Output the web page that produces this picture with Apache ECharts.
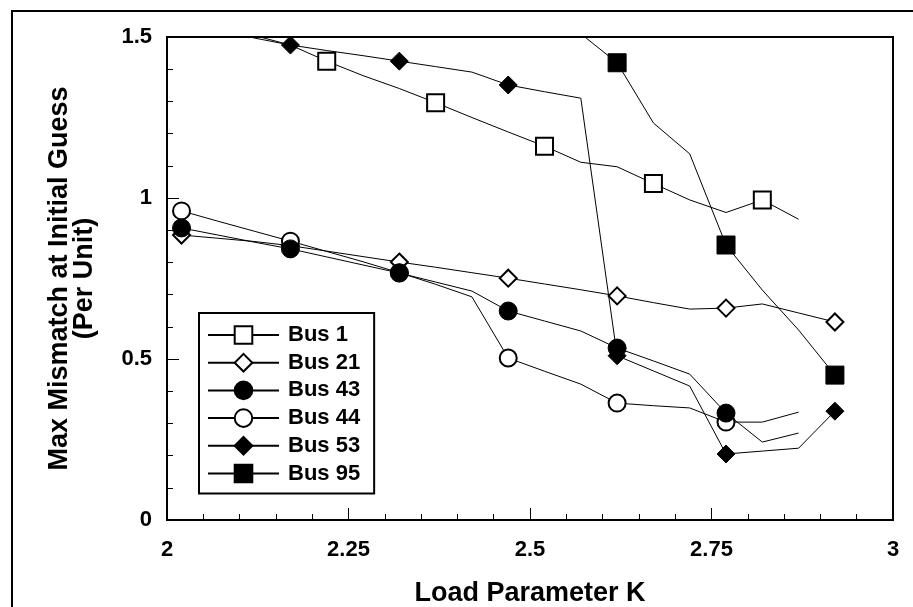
<!DOCTYPE html>
<html>
<head>
<meta charset="utf-8">
<script src="https://cdn.jsdelivr.net/npm/echarts@6/dist/echarts.min.js"></script>
<style>
html,body{margin:0;padding:0;background:#fff;}
#chart{width:913px;height:607px;}
</style>
</head>
<body>
<div id="chart"></div>
<script>
// Load parameter K at which each curve has a vertex
const kValues = [2.02, 2.07, 2.12, 2.17, 2.22, 2.27, 2.32, 2.37, 2.42, 2.47, 2.52, 2.57, 2.62, 2.67, 2.72, 2.77, 2.82, 2.87, 2.92];

const seriesNames = ['Bus 1', 'Bus 21', 'Bus 43', 'Bus 44', 'Bus 53', 'Bus 95'];

const bus1  = [null, 1.56, 1.505, 1.475, 1.425, 1.38, 1.34, 1.296, 1.25, 1.205, 1.161, 1.111, 1.097, 1.045, 0.994, 0.955, 0.994, 0.934, null];
const bus21 = [0.885, 0.875, 0.865, 0.852, 0.835, 0.818, 0.801, 0.785, 0.768, 0.751, 0.733, 0.715, 0.696, 0.675, 0.655, 0.658, 0.671, 0.643, 0.615];
const bus43 = [0.907, 0.885, 0.863, 0.842, 0.817, 0.792, 0.767, 0.739, 0.711, 0.649, 0.618, 0.587, 0.534, 0.494, 0.453, 0.332, 0.242, 0.27, null];
const bus44 = [0.96, 0.928, 0.897, 0.866, 0.834, 0.802, 0.768, 0.732, 0.693, 0.503, 0.462, 0.422, 0.363, 0.355, 0.348, 0.304, 0.304, 0.335, null];
const bus53 = [null, 1.53, 1.497, 1.475, 1.458, 1.442, 1.425, 1.408, 1.391, 1.351, 1.33, 1.31, 0.51, 0.463, 0.416, 0.205, 0.214, 0.223, 0.338];
const bus95 = [null, null, null, null, null, null, null, null, null, null, null, 1.51, 1.42, 1.233, 1.137, 0.854, 0.714, 0.59, 0.45];

const xTickLabels = ['2', '2.25', '2.5', '2.75', '3'];
const yTickLabels = ['0', '0.5', '1', '1.5'];

const seriesValues = [bus1, bus21, bus43, bus44, bus53, bus95];
// which vertex index (mod 3) carries a marker
const markerPhase = [1, 0, 0, 0, 0, 0];
const symbols = ['emptyRect', 'emptyDiamond', 'circle', 'emptyCircle', 'diamond', 'rect'];
const symbolSizes = [17, 17, 18, 17, 18, 18];
const zOrder = [2, 2, 4, 3, 2, 2];

const FONT = '"Liberation Sans", Arial, sans-serif';

const chart = echarts.init(document.getElementById('chart'), null, {renderer: 'canvas'});

const series = seriesNames.map((name, i) => ({
  name: name,
  type: 'line',
  data: kValues.map((k, j) => [k, seriesValues[i][j]]),
  symbol: symbols[i],
  symbolSize: (val, params) => (params.dataIndex % 3 === markerPhase[i] ? symbolSizes[i] : 0),
  showAllSymbol: true,
  connectNulls: false,
  clip: true,
  z: zOrder[i],
  lineStyle: {color: '#000', width: 1},
  itemStyle: {color: '#000', borderColor: '#000', borderWidth: 1},
  emphasis: {disabled: true},
  animation: false
}));

const option = {
  animation: false,
  backgroundColor: '#fff',
  grid: {
    left: 167, top: 37, right: 20, bottom: 87,
    outerBoundsMode: 'none',
    containLabel: false,
    show: true, borderColor: '#000', borderWidth: 2, backgroundColor: 'transparent'
  },
  graphic: [{
    type: 'polyline',
    shape: {points: [[12, 607], [12, 11], [913, 11]]},
    style: {stroke: '#000', lineWidth: 2, fill: null},
    silent: true
  }],
  legend: {
    show: true,
    orient: 'vertical',
    left: 199,
    top: 313,
    padding: [11, 14, 9, 8],
    itemWidth: 71,
    itemHeight: 22,
    itemGap: 5.7,
    backgroundColor: '#fff',
    borderColor: '#000',
    borderWidth: 2,
    borderRadius: 0,
    data: seriesNames,
    textStyle: {fontFamily: FONT, fontWeight: 'bold', fontSize: 22, color: '#000', padding: [0, 0, 0, 4]}
  },
  xAxis: {
    type: 'value',
    min: 2, max: 3, interval: 0.25,
    name: 'Load Parameter K',
    nameLocation: 'middle',
    nameGap: 60,
    nameTextStyle: {fontFamily: FONT, fontWeight: 'bold', fontSize: 27, color: '#000'},
    axisLine: {show: true, onZero: false, lineStyle: {color: '#000', width: 2}},
    axisTick: {show: true, inside: true, length: 12, lineStyle: {color: '#000', width: 1}},
    minorTick: {show: true, splitNumber: 5, length: 6, lineStyle: {color: '#000', width: 1}},
    splitLine: {show: false},
    minorSplitLine: {show: false},
    axisLabel: {
      fontFamily: FONT, fontWeight: 'bold', fontSize: 22, color: '#000', margin: 19,
      formatter: (v) => xTickLabels[Math.round((v - 2) / 0.25)]
    }
  },
  yAxis: {
    type: 'value',
    min: 0, max: 1.5, interval: 0.5,
    name: 'Max Mismatch at Initial Guess\n(Per Unit)',
    nameLocation: 'middle',
    nameRotate: 90,
    nameGap: 70,
    nameTextStyle: {fontFamily: FONT, fontWeight: 'bold', fontSize: 27, color: '#000', lineHeight: 25, align: 'center'},
    axisLine: {show: true, onZero: false, lineStyle: {color: '#000', width: 2}},
    axisTick: {show: true, inside: true, length: 12, lineStyle: {color: '#000', width: 1}},
    minorTick: {show: true, splitNumber: 5, length: 6, lineStyle: {color: '#000', width: 1}},
    splitLine: {show: false},
    minorSplitLine: {show: false},
    axisLabel: {
      fontFamily: FONT, fontWeight: 'bold', fontSize: 22, color: '#000', margin: 15,
      formatter: (v) => yTickLabels[Math.round(v / 0.5)]
    }
  },
  series: series
};

chart.setOption(option);
</script>
</body>
</html>
